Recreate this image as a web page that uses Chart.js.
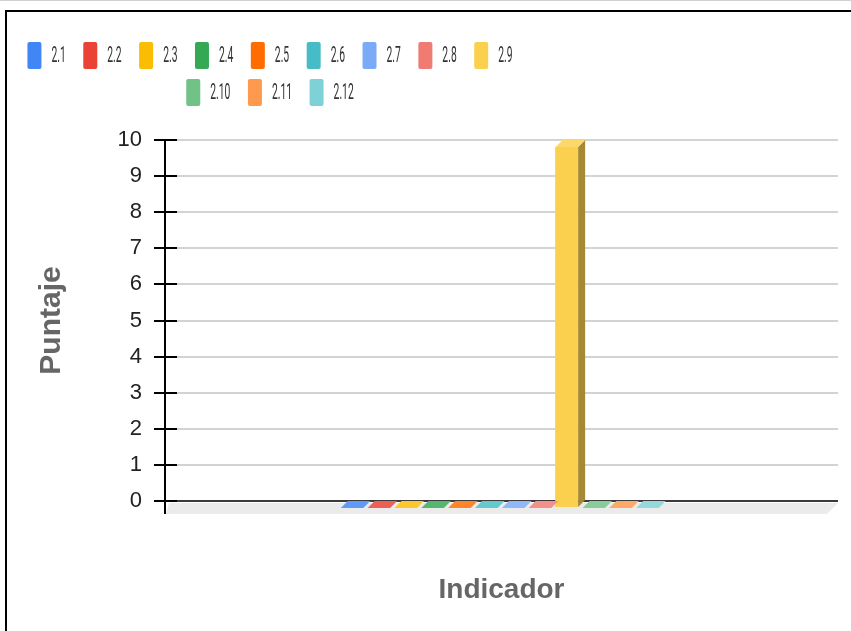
<!DOCTYPE html>
<html>
<head>
<meta charset="utf-8">
<script src="https://cdn.jsdelivr.net/npm/chart.js@4/dist/chart.umd.min.js"></script>
<style>
  html, body { margin: 0; padding: 0; background: #fff; }
  #wrap { position: relative; width: 851px; height: 631px; overflow: hidden; background: #fff; }
  #c { position: absolute; left: 0; top: 0; }
  #frame { position: absolute; left: 5px; top: 10px; width: 900px; height: 700px;
           border-left: 2px solid #000; border-top: 2px solid #000; pointer-events: none; }
  #topline { position: absolute; left: 0; top: 0; width: 851px; height: 1px; background: #d0d0d0; }
</style>
</head>
<body>
<div id="wrap">
  <canvas id="c" width="851" height="631"></canvas>
  <div id="topline"></div>
  <div id="frame"></div>
</div>
<script>
// ---- data ----
const categories = [''];
const seriesLabels = ['2.1', '2.2', '2.3', '2.4', '2.5', '2.6', '2.7', '2.8', '2.9', '2.10', '2.11', '2.12'];
const seriesValues = [0, 0, 0, 0, 0, 0, 0, 0, 10, 0, 0, 0];
const seriesColors = ['#4285F4', '#EA4335', '#FBBC04', '#34A853', '#FF6D01', '#46BDC6',
                      '#7BAAF7', '#F07B72', '#FCD04F', '#71C287', '#FF994D', '#7ED1D7'];
const yTicks = [0, 1, 2, 3, 4, 5, 6, 7, 8, 9, 10];
const xTitle = 'Indicador';
const yTitle = 'Puntaje';

// ---- helpers ----
function hexToRgb(h) {
  const n = parseInt(h.slice(1), 16);
  return [(n >> 16) & 255, (n >> 8) & 255, n & 255];
}
function lighten(h, f) {
  const [r, g, b] = hexToRgb(h);
  return `rgb(${Math.round(r + (255 - r) * f)},${Math.round(g + (255 - g) * f)},${Math.round(b + (255 - b) * f)})`;
}
function darken(h, f) {
  const [r, g, b] = hexToRgb(h);
  return `rgb(${Math.round(r * f)},${Math.round(g * f)},${Math.round(b * f)})`;
}
function poly(ctx, pts) {
  ctx.beginPath();
  ctx.moveTo(pts[0], pts[1]);
  for (let i = 2; i < pts.length; i += 2) ctx.lineTo(pts[i], pts[i + 1]);
  ctx.closePath();
  ctx.fill();
}

const FRONT_DX = -2, FRONT_DY = 7, DEPTH = 7;

// 3D look: floor, shifted front faces, top and side faces
const bar3d = {
  id: 'bar3d',
  beforeDatasetsDraw(chart) {
    const { ctx, chartArea: a } = chart;
    ctx.save();
    ctx.fillStyle = '#ebebeb';
    poly(ctx, [a.left + 4, a.bottom + 2, a.right, a.bottom + 2, a.right - 11, a.bottom + 13, a.left + 1, a.bottom + 13]);
    ctx.restore();
    ctx.save();
    ctx.translate(FRONT_DX, FRONT_DY);
  },
  afterDatasetsDraw(chart) {
    const ctx = chart.ctx;
    ctx.restore();
    ctx.save();
    chart.data.datasets.forEach((ds, i) => {
      const meta = chart.getDatasetMeta(i);
      if (meta.hidden) return;
      meta.data.forEach(el => {
        const p = el.getProps(['x', 'y', 'base', 'width'], true);
        const l = p.x - p.width / 2 + FRONT_DX + 0.5;
        const r = p.x + p.width / 2 + FRONT_DX;
        const t = Math.min(p.y, p.base) + FRONT_DY;
        const b = Math.max(p.y, p.base) + FRONT_DY;
        const col = ds.backgroundColor;
        if (b - t > 0.5) {
          ctx.fillStyle = darken(col, 0.66);
          poly(ctx, [r, t, r + DEPTH, t - DEPTH, r + DEPTH, b - DEPTH, r, b]);
        }
        ctx.fillStyle = lighten(col, 0.16);
        poly(ctx, [l, t, r, t, r + DEPTH, t - DEPTH, l + DEPTH, t - DEPTH]);
      });
    });
    ctx.restore();
  }
};

// tick marks crossing the axis and axis extension below the floor
const axisExtras = {
  id: 'axisExtras',
  afterDraw(chart) {
    const { ctx, chartArea: a, scales } = chart;
    const ys = scales.y;
    ctx.save();
    ctx.strokeStyle = '#000';
    ctx.lineWidth = 2;
    ys.ticks.forEach(t => {
      const y = Math.round(ys.getPixelForValue(t.value));
      ctx.beginPath(); ctx.moveTo(a.left, y); ctx.lineTo(a.left + 12, y); ctx.stroke();
    });
    const x = Math.round(a.left);
    ctx.beginPath(); ctx.moveTo(x, a.bottom); ctx.lineTo(x, a.bottom + 13); ctx.stroke();
    ctx.restore();
  }
};

// legend drawn in two centred rows
const legendRows = {
  id: 'legendRows',
  afterDraw(chart) {
    const ctx = chart.ctx;
    const centerX = 270, maxW = 500, firstTop = 42, rowStep = 37;
    const boxW = 14, boxH = 27, gap = 10, after = 17.5, sx = 0.47;
    ctx.save();
    ctx.font = '400 22px Roboto, "Liberation Sans", Arial';
    const items = chart.data.datasets.map(ds => {
      const tw = ctx.measureText(ds.label).width * sx;
      return { label: ds.label, color: ds.backgroundColor, tw, w: boxW + gap + tw };
    });
    const rows = [];
    let cur = [], curW = 0;
    items.forEach(it => {
      const add = (cur.length ? after : 0) + it.w;
      if (cur.length && curW + add > maxW) { rows.push({ items: cur, w: curW }); cur = []; curW = 0; }
      curW += (cur.length ? after : 0) + it.w;
      cur.push(it);
    });
    if (cur.length) rows.push({ items: cur, w: curW });
    rows.forEach((row, ri) => {
      let x = centerX - row.w / 2;
      const top = firstTop + ri * rowStep;
      row.items.forEach(it => {
        ctx.fillStyle = it.color;
        ctx.beginPath();
        ctx.roundRect(x, top, boxW, boxH, 2);
        ctx.fill();
        ctx.save();
        ctx.translate(x + boxW + gap, top + boxH / 2 + 1);
        ctx.scale(sx, 1);
        ctx.fillStyle = '#333';
        ctx.textBaseline = 'middle';
        ctx.textAlign = 'left';
        ctx.fillText(it.label, 0, 0);
        ctx.restore();
        x += it.w + after;
      });
    });
    ctx.restore();
  }
};

const datasets = seriesLabels.map((lab, i) => ({
  label: lab,
  data: [seriesValues[i]],
  backgroundColor: seriesColors[i],
  borderWidth: 0,
  clip: false
}));

new Chart(document.getElementById('c'), {
  type: 'bar',
  data: { labels: categories, datasets },
  plugins: [bar3d, axisExtras, legendRows],
  options: {
    responsive: false,
    animation: false,
    devicePixelRatio: 1,
    layout: { padding: { top: 140, right: 13, bottom: 0, left: 0 } },
    datasets: { bar: { categoryPercentage: 0.4788, barPercentage: 0.857 } },
    plugins: { legend: { display: false }, tooltip: { enabled: false } },
    scales: {
      x: {
        type: 'category',
        grid: { display: false },
        border: { display: false },
        ticks: { display: false },
        title: {
          display: true, text: xTitle, color: '#666',
          font: { family: '"Liberation Sans", Arial', size: 28, weight: 'bold' },
          padding: { top: 0, bottom: 24 }
        },
        afterFit(s) { s.height = 130; }
      },
      y: {
        min: 0, max: 10,
        afterBuildTicks(s) { s.ticks = yTicks.map(v => ({ value: v })); },
        ticks: {
          padding: 12, color: '#222',
          font: { family: '"Liberation Sans", Arial', size: 22 }
        },
        grid: {
          color: c => (c.tick && c.tick.value === 0 ? '#3a3a3a' : '#d3d3d3'),
          lineWidth: 2, tickLength: 11, tickColor: '#000', tickWidth: 2
        },
        border: { display: true, color: '#000', width: 2 },
        title: {
          display: true, text: yTitle, color: '#666',
          font: { family: '"Liberation Sans", Arial', size: 30, weight: 'bold' },
          padding: { top: 34 }
        },
        afterFit(s) { s.width = 165; }
      }
    }
  }
});
</script>
</body>
</html>
